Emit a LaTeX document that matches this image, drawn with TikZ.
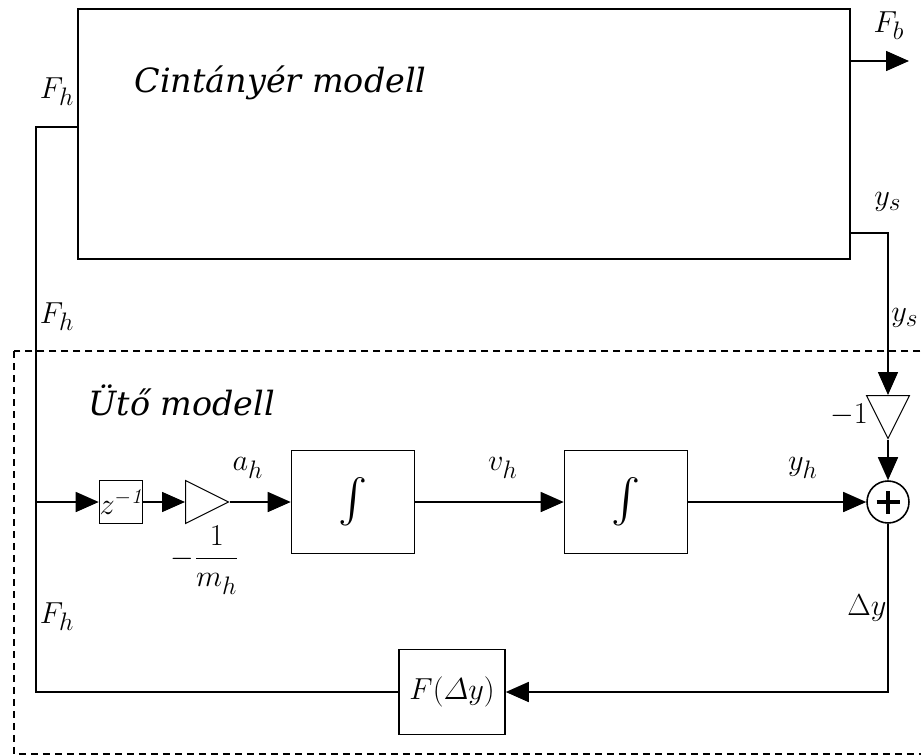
\documentclass[tikz,border=0pt]{standalone}
\usepackage{amsmath}
\usepackage{fontspec}
\newfontfamily\titlefont{DejaVu Serif}
\usetikzlibrary{arrows.meta,shapes.geometric}
\begin{document}
\begin{tikzpicture}[x=0.02cm,y=-0.02cm,line width=0.9pt,
    blk/.style={draw,rectangle,inner sep=0pt},
    gain/.style={draw,isosceles triangle,isosceles triangle stretches,
      minimum width=0.86cm,minimum height=0.86cm,inner sep=0pt,line width=0.6pt},
    sumnode/.style={draw,circle,minimum size=0.84cm,inner sep=0pt,
      path picture={\draw[line width=2.4pt]
        ([xshift=-2.3mm]path picture bounding box.center) -- ([xshift=2.3mm]path picture bounding box.center)
        ([yshift=-2.3mm]path picture bounding box.center) -- ([yshift=2.3mm]path picture bounding box.center);}},
    sig/.style={-{Triangle[length=4.6mm,width=4mm]}},
    lbl/.style={font=\fontsize{19}{22}\selectfont},
    title/.style={anchor=base west,font=\titlefont\itshape\fontsize{19}{22}\selectfont}]
  \clip (0,0) rectangle (921,755);
  \draw[dash pattern=on 0.14cm off 0.1cm,line width=0.7pt] (14,351) rectangle (940,754);
  \node[blk,minimum width=15.44cm,minimum height=5cm] (cint) at (464,134) {};
  \node[title] (cintlbl) at (128,92) {Cintányér modell};
  \node[title] (utolbl) at (82,415) {Ütő modell};
  \node[blk,minimum size=0.86cm] (delay) at (121,502) {\LARGE$z^{\mathit{-1}}$};
  \node[gain,anchor=lower side] (gain1) at (185,502) {};
  \node[blk,minimum width=2.46cm,minimum height=2.06cm] (int1) at (353,502) {\Huge$\int$};
  \node[blk,minimum width=2.46cm,minimum height=2.06cm] (int2) at (626,502) {\Huge$\int$};
  \node[sumnode] (sum) at (888,502) {};
  \node[gain,shape border rotate=-90,anchor=lower side] (gain2) at (888,395) {};
  \node[blk,minimum width=2.12cm,minimum height=1.7cm] (fdy) at (452,692) {\LARGE$F(\varDelta y)$};

  \coordinate (fhin) at (78,127);
  \coordinate (fhtop) at (36,127);
  \coordinate (fhsplit) at (36,502);
  \coordinate (fhbot) at (36,692);
  \coordinate (dycorner) at (888,692);
  \coordinate (fbout) at (850,61);
  \coordinate (fbend) at (909,61);
  \coordinate (ysout) at (850,233);
  \coordinate (yscorner) at (888,233);

  \draw (fdy) -- (fhbot) -- (fhtop) -- (fhin);
  \draw[sig] (fhsplit) -- (delay);
  \draw[sig] (delay) -- (gain1);
  \draw[sig] (gain1.apex) -- (int1);
  \draw[sig] (int1) -- (int2);
  \draw[sig] (int2) -- (sum);
  \draw[sig] (sum) -- (dycorner) -- (fdy);
  \draw[sig] (fbout) -- (fbend);
  \draw[sig] (ysout) -- (yscorner) -- (gain2.lower side);
  \draw[sig] (gain2.apex) -- (sum);

  \node[lbl] (fhlbl1) at (57,92) {$F_h$};
  \node[lbl] (fhlbl2) at (57,317) {$F_h$};
  \node[lbl] (fhlbl3) at (57,617) {$F_h$};
  \node[lbl] (fblbl) at (889,26) {$F_b$};
  \node[lbl] (yslbl1) at (888,202) {$y_s$};
  \node[lbl] (yslbl2) at (905,318) {$y_s$};
  \node[lbl] (ahlbl) at (248,468) {$a_h$};
  \node[lbl] (vhlbl) at (503,468) {$v_h$};
  \node[lbl] (yhlbl) at (803,468) {$y_h$};
  \node[lbl] (glbl) at (205,560) {$-\dfrac{1}{m_h}$};
  \node[lbl] (g2lbl) at (849,415) {$-1$};
  \node[lbl] (dylbl) at (867,608) {$\Delta y$};
\end{tikzpicture}
\end{document}
